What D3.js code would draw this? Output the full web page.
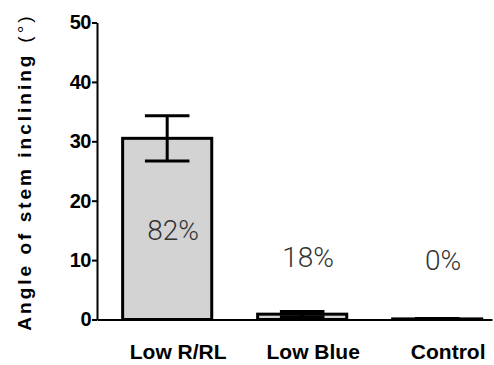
<!DOCTYPE html>
<html>
<head>
<meta charset="utf-8">
<script src="https://cdn.jsdelivr.net/npm/d3@7"></script>
<style>
  html, body { margin: 0; padding: 0; background: #fff; }
  svg { display: block; }
</style>
</head>
<body>
<svg id="chart" width="494" height="365"></svg>
<script>
// Treatments, mean stem inclining angle (degrees) and its error
const categories = ["Low R/RL", "Low Blue", "Control"];
const means = [30.5, 0.9, 0.1];
const errors = [3.8, 0.45, 0.05];
// Share of plants that inclined, printed above/inside each bar
const percentLabels = ["82%", "18%", "0%"];
const yTicks = [0, 10, 20, 30, 40, 50];

const svg = d3.select("#chart");
const font = "'Liberation Sans', Arial, sans-serif";

const y = d3.scaleLinear().domain([0, 50]).range([319.5, 22.5]);
const x = d3.scaleBand()
  .domain(categories)
  .range([97, 492])
  .paddingInner(0.34)
  .paddingOuter(0.133)
  .align(0.714);

const rows = categories.map((c, i) => ({ c, m: means[i], e: errors[i], p: percentLabels[i] }));

// Bars
svg.append("g").selectAll("rect").data(rows).join("rect")
  .attr("x", d => x(d.c))
  .attr("y", d => y(d.m))
  .attr("width", x.bandwidth())
  .attr("height", d => y(0) - y(d.m))
  .attr("fill", "#d3d3d3")
  .attr("stroke", "#000")
  .attr("stroke-width", 3);

// Error bars (stem + two caps half a bar wide)
const eb = svg.append("g").attr("stroke", "#000").attr("stroke-width", 3);
rows.forEach(d => {
  const cx = x(d.c) + x.bandwidth() / 2;
  const hw = x.bandwidth() / 4;
  eb.append("line").attr("x1", cx).attr("x2", cx).attr("y1", y(d.m - d.e)).attr("y2", y(d.m + d.e));
  eb.append("line").attr("x1", cx - hw).attr("x2", cx + hw).attr("y1", y(d.m + d.e)).attr("y2", y(d.m + d.e));
  eb.append("line").attr("x1", cx - hw).attr("x2", cx + hw).attr("y1", y(d.m - d.e)).attr("y2", y(d.m - d.e));
});

// Percentage annotations (heights in axis units)
const percentAt = [15, 10.5, 10];
svg.append("g").selectAll("text").data(rows).join("text")
  .attr("x", d => x(d.c) + x.bandwidth() / 2 + 6)
  .attr("y", (d, i) => y(percentAt[i]))
  .attr("dy", "0.35em")
  .attr("text-anchor", "middle")
  .attr("font-family", "Roboto, " + font)
  .attr("font-weight", 300)
  .attr("font-size", 28)
  .attr("fill", "#333")
  .text(d => d.p);

// Y axis
const yAxis = svg.append("g")
  .attr("transform", `translate(${x.range()[0]},0)`)
  .call(d3.axisLeft(y).tickValues(yTicks).tickSize(5).tickSizeOuter(0).tickPadding(1));
yAxis.selectAll("path, line").attr("stroke", "#000").attr("stroke-width", 2);
yAxis.selectAll("text")
  .attr("font-family", font)
  .attr("font-weight", "bold")
  .attr("font-size", 20)
  .attr("letter-spacing", -0.5)
  .attr("fill", "#000");

// X axis baseline and category labels
const xAxis = svg.append("g")
  .attr("transform", `translate(0,${y(0)})`)
  .call(d3.axisBottom(x).tickSize(0).tickSizeOuter(0).tickPadding(25));
xAxis.select(".domain").attr("stroke", "#000").attr("stroke-width", 2);
xAxis.selectAll("text")
  .attr("dx", 11)
  .attr("font-family", font)
  .attr("font-weight", "bold")
  .attr("font-size", 21)
  .attr("fill", "#000");

// Y axis title
const title = svg.append("text")
  .attr("transform", "translate(31,172) rotate(-90)")
  .attr("text-anchor", "middle")
  .attr("font-family", font)
  .attr("font-size", 19)
  .attr("letter-spacing", 3)
  .attr("fill", "#000");
title.append("tspan").attr("font-weight", "bold").text("Angle of stem inclining");
title.append("tspan").attr("dx", 10).text("(°)");
</script>
</body>
</html>
